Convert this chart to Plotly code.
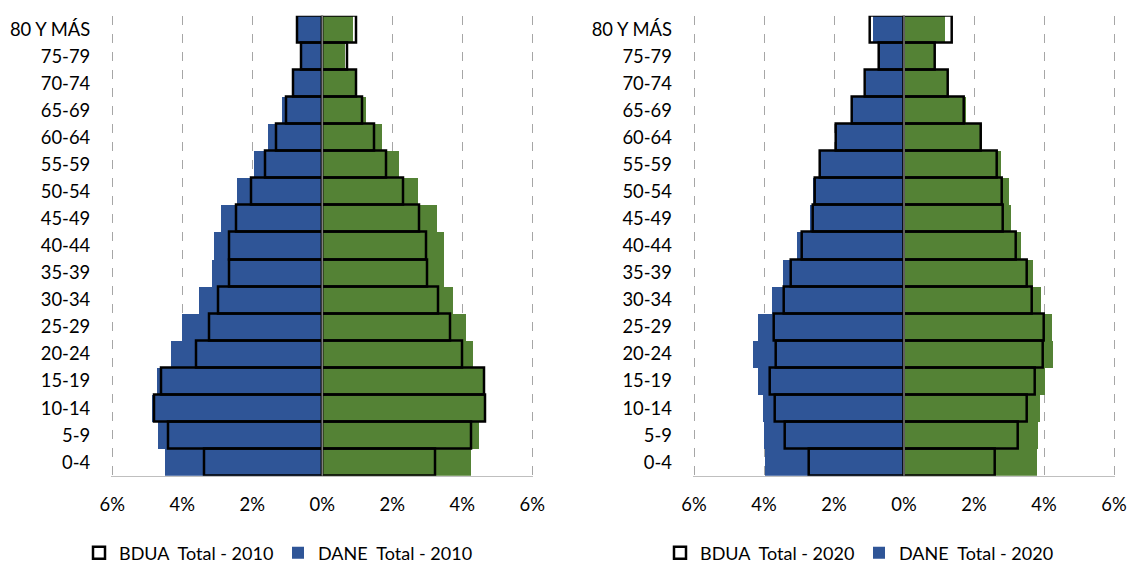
import plotly.graph_objects as go
from plotly.subplots import make_subplots

# Grupos de edad (de abajo hacia arriba)
grupos_edad = ["0-4", "5-9", "10-14", "15-19", "20-24", "25-29", "30-34", "35-39",
               "40-44", "45-49", "50-54", "55-59", "60-64", "65-69", "70-74",
               "75-79", "80 Y MÁS"]

# Porcentaje de población por sexo (hombres a la izquierda, mujeres a la derecha)
dane_hombres_2010 = [4.48, 4.68, 4.87, 4.73, 4.32, 3.99, 3.51, 3.15, 3.10, 2.88, 2.43, 1.95, 1.54, 1.14, 0.83, 0.58, 0.69]
dane_mujeres_2010 = [4.26, 4.47, 4.64, 4.61, 4.32, 4.10, 3.75, 3.47, 3.47, 3.27, 2.75, 2.20, 1.70, 1.26, 0.94, 0.66, 0.89]
bdua_hombres_2010 = [3.37, 4.41, 4.79, 4.60, 3.60, 3.24, 2.97, 2.66, 2.66, 2.46, 2.04, 1.63, 1.31, 1.02, 0.83, 0.59, 0.71]
bdua_mujeres_2010 = [3.24, 4.26, 4.66, 4.63, 4.00, 3.66, 3.32, 3.00, 2.98, 2.78, 2.32, 1.83, 1.47, 1.14, 0.97, 0.70, 0.96]

dane_hombres_2020 = [3.97, 3.99, 4.03, 4.17, 4.31, 4.17, 3.77, 3.46, 3.06, 2.68, 2.61, 2.39, 1.95, 1.50, 1.08, 0.71, 0.90]
dane_mujeres_2020 = [3.81, 3.83, 3.87, 4.03, 4.25, 4.22, 3.91, 3.69, 3.34, 3.06, 3.01, 2.77, 2.24, 1.76, 1.23, 0.87, 1.16]
bdua_hombres_2020 = [2.72, 3.41, 3.69, 3.82, 3.65, 3.72, 3.43, 3.23, 2.93, 2.60, 2.55, 2.39, 1.95, 1.50, 1.12, 0.73, 0.97]
bdua_mujeres_2020 = [2.59, 3.25, 3.52, 3.73, 3.96, 3.99, 3.66, 3.50, 3.20, 2.84, 2.80, 2.65, 2.21, 1.70, 1.26, 0.88, 1.37]

ticks_x = [-6, -4, -2, 0, 2, 4, 6]
ticks_x_texto = ["6%", "4%", "2%", "0%", "2%", "4%", "6%"]

AZUL = "#2F5597"
VERDE = "#548235"
FUENTE = "Lato"
W, H = 1128, 563

fig = make_subplots(rows=1, cols=2)

paneles = [
    (1, "2010", "legend", dane_hombres_2010, dane_mujeres_2010, bdua_hombres_2010, bdua_mujeres_2010),
    (2, "2020", "legend2", dane_hombres_2020, dane_mujeres_2020, bdua_hombres_2020, bdua_mujeres_2020),
]

for col, anio, leyenda, dh, dm, bh, bm in paneles:
    # DANE: barras rellenas
    fig.add_trace(go.Bar(
        y=grupos_edad, x=[-v for v in dh], orientation="h",
        marker=dict(color=AZUL, line=dict(width=0)),
        name=f"DANE\u00a0 Total - {anio}", legend=leyenda, legendrank=2,
        showlegend=True,
    ), row=1, col=col)
    fig.add_trace(go.Bar(
        y=grupos_edad, x=dm, orientation="h",
        marker=dict(color=VERDE, line=dict(width=0)),
        name=f"DANE mujeres {anio}", legend=leyenda, showlegend=False,
    ), row=1, col=col)
    # BDUA: barras huecas con borde negro
    fig.add_trace(go.Bar(
        y=grupos_edad, x=[-v for v in bh], orientation="h",
        marker=dict(color="rgba(0,0,0,0)", line=dict(color="black", width=2.5)),
        name=f"BDUA\u00a0 Total - {anio}", legend=leyenda, legendrank=1,
        showlegend=True,
    ), row=1, col=col)
    fig.add_trace(go.Bar(
        y=grupos_edad, x=bm, orientation="h",
        marker=dict(color="rgba(0,0,0,0)", line=dict(color="black", width=2.5)),
        name=f"BDUA mujeres {anio}", legend=leyenda, showlegend=False,
    ), row=1, col=col)
    # línea vertical del cero por encima de las barras
    xr = "x" if col == 1 else "x2"
    yr = "y domain" if col == 1 else "y2 domain"
    fig.add_shape(type="line", xref=xr, yref=yr, x0=0, x1=0, y0=0, y1=1,
                  line=dict(color="#7F7F7F", width=1.5), layer="above")

# rango apenas mayor que ±6 para que se dibujen las líneas de cuadrícula de los extremos
PAD = 0.03
PX_POR_PCT = 35.0
eje_x = dict(range=[-6 - PAD, 6 + PAD], tickvals=ticks_x, ticktext=ticks_x_texto,
             showgrid=True, gridcolor="#A6A6A6", griddash="dash", gridwidth=1,
             zeroline=False, showline=True, linecolor="#BFBFBF", linewidth=1,
             ticks="", ticklabelstandoff=12, automargin=False,
             tickfont=dict(family=FUENTE, size=18.4, color="black"), fixedrange=True)
eje_y = dict(type="category", range=[-0.5, 16.5], showgrid=False, zeroline=False,
             showline=False, ticks="", ticklabelstandoff=20, automargin=False,
             tickfont=dict(family=FUENTE, size=18.4, color="black"))


def dominio_x(cero_px):
    ancho = (6 + PAD) * PX_POR_PCT
    return [(cero_px - ancho) / W, (cero_px + ancho) / W]


alto_ini = 1 - 475.7 / H
alto_fin = 1 - 15.7 / H

leyenda_base = dict(orientation="h", xanchor="left", y=1 - 553 / H, yanchor="middle",
                    font=dict(family=FUENTE, size=18), itemwidth=30, entrywidth=154,
                    traceorder="normal", bgcolor="rgba(0,0,0,0)")

fig.update_layout(
    width=W, height=H,
    margin=dict(l=0, r=0, t=0, b=0, autoexpand=False),
    paper_bgcolor="white", plot_bgcolor="white",
    barmode="overlay", bargap=0,
    font=dict(family=FUENTE, size=17, color="black"),
    xaxis=dict(eje_x, domain=dominio_x(322.3)),
    xaxis2=dict(eje_x, domain=dominio_x(904.0)),
    yaxis=dict(eje_y, domain=[alto_ini, alto_fin]),
    yaxis2=dict(eje_y, domain=[alto_ini, alto_fin]),
    legend=dict(leyenda_base, x=79 / W),
    legend2=dict(leyenda_base, x=660 / W),
    showlegend=True,
)

fig.write_html("out.html")
